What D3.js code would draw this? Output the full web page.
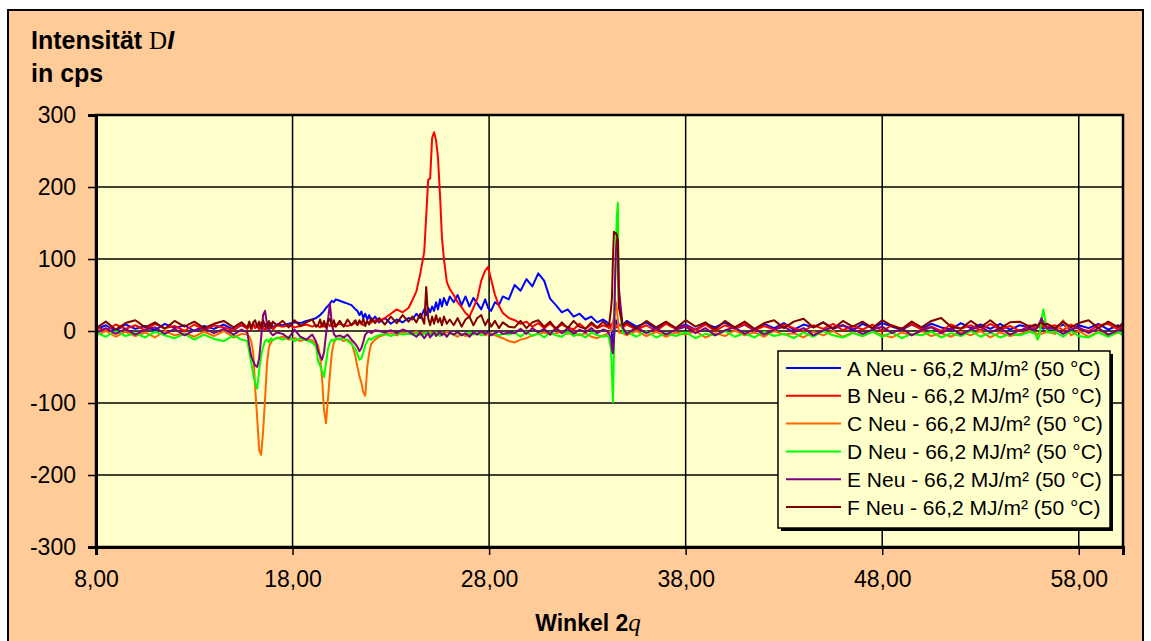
<!DOCTYPE html>
<html>
<head>
<meta charset="utf-8">
<script src="https://d3js.org/d3.v7.min.js"></script>
<style>
  body { margin:0; background:#fff; }
  text { font-family: Arial, "Liberation Sans", sans-serif; fill:#000; }
  .tick text { font-size:23px; }
  .grid line { stroke:#000; stroke-width:1.5; }
</style>
</head>
<body>
<script>

// shared angle grid (2 theta), finer where the peaks are
var winkel = [
  8.0, 8.5, 9.0, 9.5, 10.0, 10.5, 11.0, 11.5, 12.0, 12.5, 13.0, 13.5, 14.0, 14.5, 15.0, 15.4,
  15.7, 15.8, 15.9, 16.0, 16.1, 16.2, 16.3, 16.4, 16.5, 16.6, 16.7, 16.8, 16.9, 17.0, 17.2,
  17.5, 17.8, 18.1, 18.4, 18.7, 19.0, 19.2,
  19.3, 19.4, 19.5, 19.6, 19.7, 19.8, 19.9, 20.0, 20.1, 20.2,
  20.4, 20.6, 20.8, 21.0, 21.2,
  21.3, 21.4, 21.5, 21.6, 21.7, 21.8, 21.9, 22.0, 22.2,
  22.4, 22.7, 23.0, 23.3, 23.6, 23.9,
  24.1, 24.3, 24.5, 24.7, 24.8, 24.9, 25.0, 25.1, 25.2, 25.3, 25.4, 25.5, 25.6, 25.7, 25.85, 26.0,
  26.2, 26.4, 26.6, 26.8, 27.0, 27.2, 27.4, 27.6, 27.8, 27.95, 28.1, 28.3, 28.5, 28.7, 29.0,
  29.3, 29.6, 29.9, 30.2, 30.5, 30.8, 31.1, 31.4, 31.7, 32.0, 32.3, 32.6, 32.9, 33.2, 33.5, 33.8,
  34.0, 34.1, 34.2, 34.25, 34.3, 34.35, 34.4, 34.45, 34.5, 34.55, 34.6, 34.8,
  35.0, 35.5, 36.0, 36.5, 37.0, 37.5, 38.0, 38.5, 39.0, 39.5, 40.0, 40.5, 41.0, 41.5,
  42.0, 42.5, 43.0, 43.5, 44.0, 44.5, 45.0, 45.5, 46.0, 46.5, 47.0, 47.5, 48.0, 48.5,
  49.0, 49.5, 50.0, 50.5, 51.0, 51.5, 52.0, 52.5, 53.0, 53.5, 54.0, 54.5, 55.0, 55.5,
  55.8, 55.9, 56.0, 56.1, 56.2, 56.4,
  56.8, 57.2, 57.6, 58.0, 58.5, 59.0, 59.5, 60.0, 60.25
];

var serieA = [
  2,8,0,9,3,7,1,10,4,8,0,7,3,9,2,8,
  4,9,3,10,5,8,2,9,4,10,3,8,11,5,9,
  8,10,12,11,14,16,18,
  20,22,25,28,32,35,38,42,40,44,
  42,40,38,36,30,
  28,22,27,18,24,16,22,14,20,
  12,18,10,16,12,18,
  16,24,18,30,22,32,26,34,28,40,30,44,34,46,36,48,
  40,50,36,48,34,46,38,30,44,32,28,40,36,48,44,
  64,56,72,62,80,70,45,36,26,30,20,24,16,20,12,16,
  12,10,8,-5,-18,-10,6,15,10,8,9,8,
  14,6,12,3,11,4,9,2,10,5,12,3,9,1,10,4,11,2,9,5,12,3,8,1,10,4,11,6,2,9,3,10,5,2,11,4,9,3,10,2,8,5,
  8,6,10,5,3,6,
  3,9,1,8,4,10,2,8,4
];
var serieB = [
  6,0,9,3,8,1,10,4,7,0,9,2,8,5,1,9,
  3,9,1,10,4,8,2,11,5,1,9,3,10,2,8,
  6,8,5,7,9,6,8,
  7,5,9,6,8,10,7,9,6,8,
  10,8,7,9,11,
  9,12,10,8,11,13,10,12,15,
  14,18,24,30,26,32,
  43,55,80,110,160,210,212,268,276,265,240,190,130,100,68,58,
  50,40,33,25,20,32,45,70,84,89,72,50,35,25,18,
  15,10,13,6,11,4,10,3,9,5,2,10,3,9,4,8,
  6,4,8,10,12,15,8,6,5,7,9,5,
  9,2,8,0,10,3,7,1,9,0,8,3,10,1,7,2,9,4,0,8,3,10,1,7,2,9,0,8,3,10,2,6,0,9,3,8,1,10,2,7,0,8,
  4,6,5,7,5,6,
  8,1,9,3,0,8,10,2,6
];
var serieC = [
  -6,0,-8,-1,-7,-2,-9,0,-6,-3,-8,-1,-7,0,-9,-4,
  -5,-8,-14,-30,-80,-120,-165,-172,-140,-95,-45,-22,-16,-12,-10,
  -8,-12,-10,-14,-11,-13,-18,
  -20,-35,-65,-110,-128,-95,-60,-30,-16,-12,
  -10,-14,-12,-16,-35,
  -50,-62,-72,-85,-90,-50,-30,-18,-12,
  -8,-5,-3,-6,-2,-4,
  -3,-1,-4,-2,-5,-3,-1,-4,-2,-5,-3,-6,-2,-4,-1,-3,
  -5,-8,-4,-7,-5,-3,-5,-2,-6,-4,-3,-6,-8,-10,-14,
  -16,-12,-10,-6,-4,-2,-5,-3,-1,-4,-2,-6,-3,-8,-10,-6,
  -4,-2,0,5,10,20,35,40,30,15,-2,-3,
  -6,0,-7,-1,-8,-2,-5,0,-9,-3,-7,1,-6,-2,-8,0,-5,-3,-9,-1,-6,0,-8,-2,-7,-1,-5,-9,-2,-6,0,-7,-3,-8,-1,-6,0,-9,-2,-7,-4,0,
  -3,-5,-2,-4,-3,-1,
  -4,15,-6,0,-8,-1,-7,-2,-5
];
var serieD = [
  -2,-8,0,-7,-3,-9,-1,-6,-10,-4,-12,-5,-11,-14,-6,-12,
  -14,-30,-45,-60,-72,-80,-55,-35,-22,-14,-12,-16,-10,-13,-9,
  -12,-8,-14,-10,-13,-16,-22,
  -42,-48,-55,-64,-45,-25,-16,-12,-14,-10,
  -12,-9,-14,-18,-25,
  -32,-40,-38,-30,-20,-14,-10,-12,-8,
  -6,-4,-7,-3,-5,-4,
  -5,-3,-6,-4,-2,-5,-3,-6,-4,-2,-5,-7,-3,-4,-6,-3,
  -5,-3,-6,-4,-2,-5,-3,-6,-4,-2,-5,-3,-6,-4,-5,
  -2,-8,-1,-7,-3,-9,-2,-6,-8,-1,-7,-4,-9,-2,-6,-8,
  -6,-10,-25,-60,-99,-30,60,120,160,178,40,-3,
  -1,-8,0,-9,-3,-7,-2,-10,-4,-6,0,-8,-3,-9,-1,-7,-4,-10,-2,-8,0,-6,-9,-3,-7,-1,-8,-2,-10,-4,-6,-1,-9,-3,-7,0,-8,-2,-9,-4,-6,-1,
  -4,-12,-6,15,30,-2,
  -1,-8,0,-7,-9,-2,-8,-1,-6
];
var serieE = [
  -3,4,-4,3,-5,2,5,-4,3,-6,1,4,-3,3,-5,2,
  -2,-20,-35,-42,-48,-50,-38,-10,22,28,10,2,-3,-6,-2,
  -4,-10,2,-8,-12,-5,-15,
  -28,-34,-40,-30,-5,15,38,10,-4,-8,
  -6,-9,-5,-12,-18,
  -22,-28,-24,-15,-5,-2,0,-3,1,
  0,-2,1,-3,2,-1,
  -4,-8,-2,-10,-6,-3,-9,-5,-2,-7,-4,-1,-6,-3,-8,-2,
  -5,-1,-6,-3,-8,-2,-5,0,-4,-1,-6,-3,0,-4,-2,
  -3,3,-4,4,-2,3,-5,5,-3,4,-4,2,-2,4,-3,2,
  0,-4,-10,-25,-31,-15,60,110,125,128,60,5,
  -4,5,-3,4,-5,2,6,-3,4,-6,1,5,-4,3,-5,2,6,-2,4,-6,1,5,8,3,-4,2,6,-3,4,-6,1,5,-3,4,-5,2,6,-2,4,-5,1,3,
  2,5,10,18,12,3,
  3,-4,2,5,-3,4,-5,1,3
];
var serieF = [
  4,13,2,11,15,5,12,3,14,6,13,4,10,14,5,12,
  5,13,4,12,15,6,13,4,15,7,5,14,4,13,8,
  14,5,15,7,12,16,6,
  8,16,6,14,5,13,17,7,15,6,
  14,6,16,8,15,
  8,15,10,17,7,14,9,18,11,
  18,9,20,11,22,13,
  20,12,24,10,61,18,8,20,10,22,12,18,8,20,10,16,
  8,18,6,16,20,8,18,22,8,16,6,14,4,12,6,
  5,14,4,12,15,6,13,3,12,4,14,6,3,12,5,13,
  8,8,30,47,100,138,135,136,134,120,33,8,
  12,3,14,5,13,4,15,6,12,2,14,5,13,3,11,15,4,13,17,5,12,3,14,6,13,4,15,7,3,13,5,14,18,6,3,14,5,15,4,12,13,6,
  9,7,11,12,8,10,
  4,13,5,11,15,4,13,5,11
];

var serienNamen = [
  "A Neu - 66,2 MJ/m² (50 °C)",
  "B Neu - 66,2 MJ/m² (50 °C)",
  "C Neu - 66,2 MJ/m² (50 °C)",
  "D Neu - 66,2 MJ/m² (50 °C)",
  "E Neu - 66,2 MJ/m² (50 °C)",
  "F Neu - 66,2 MJ/m² (50 °C)"
];
var farben = ["#0000ff", "#ff0000", "#ff6600", "#00ff00", "#800080", "#800000"];
var xTicks = [8, 18, 28, 38, 48, 58];
var yTicks = [-300, -200, -100, 0, 100, 200, 300];

var alleSerien = [serieA, serieB, serieC, serieD, serieE, serieF];

var W = 1151, H = 641;
var plot = {left: 96, right: 1123, top: 115, bottom: 547};

var svg = d3.select("body").append("svg")
  .attr("width", W)
  .attr("height", H);

// chart area
svg.append("rect")
  .attr("x", 8).attr("y", 10)
  .attr("width", 1135).attr("height", 640)
  .attr("fill", "#ffcc99")
  .attr("stroke", "#000")
  .attr("stroke-width", 2);

var x = d3.scaleLinear().domain([8, 60.25]).range([plot.left, plot.right]);
var y = d3.scaleLinear().domain([-300, 300]).range([plot.bottom, plot.top]);

svg.append("rect")
  .attr("x", plot.left).attr("y", plot.top)
  .attr("width", plot.right - plot.left)
  .attr("height", plot.bottom - plot.top)
  .attr("fill", "#ffffcc");

// gridlines
var grid = svg.append("g").attr("class", "grid");
grid.selectAll(".gx")
  .data(xTicks.filter(d => d > 8))
  .enter().append("line")
  .attr("x1", d => x(d)).attr("x2", d => x(d))
  .attr("y1", plot.top).attr("y2", plot.bottom);
grid.selectAll(".gy")
  .data(yTicks.filter(d => d > -300 && d < 300))
  .enter().append("line")
  .attr("x1", plot.left).attr("x2", plot.right)
  .attr("y1", d => y(d)).attr("y2", d => y(d));

svg.append("clipPath").attr("id", "clip")
  .append("rect")
  .attr("x", plot.left).attr("y", plot.top)
  .attr("width", plot.right - plot.left)
  .attr("height", plot.bottom - plot.top);

var line = d3.line()
  .x(d => x(d[0]))
  .y(d => y(d[1]));

svg.append("g")
  .attr("clip-path", "url(#clip)")
  .selectAll("path")
  .data(alleSerien)
  .enter().append("path")
  .attr("fill", "none")
  .attr("stroke", (d, i) => farben[i])
  .attr("stroke-width", 2)
  .attr("stroke-linejoin", "round")
  .attr("d", d => line(winkel.map((w, i) => [w, d[i]]).filter(p => p[1] !== undefined)));

// plot frame
svg.append("rect")
  .attr("x", plot.left).attr("y", plot.top)
  .attr("width", plot.right - plot.left)
  .attr("height", plot.bottom - plot.top)
  .attr("fill", "none")
  .attr("stroke", "#000")
  .attr("stroke-width", 2.5);

// axes
var komma = d3.format(".2f");
var xAxis = d3.axisBottom(x).tickValues(xTicks).tickSize(8).tickPadding(16)
  .tickFormat(d => komma(d).replace(".", ","));
var yAxis = d3.axisLeft(y).tickValues(yTicks).tickSize(8).tickPadding(12)
  .tickFormat(d => String(d));

var gx = svg.append("g")
  .attr("transform", "translate(0," + plot.bottom + ")")
  .call(xAxis);
var gy = svg.append("g")
  .attr("transform", "translate(" + plot.left + ",0)")
  .call(yAxis);
[gx, gy].forEach(g => {
  g.select(".domain").attr("stroke", "#000").attr("stroke-width", 3);
  g.selectAll(".tick line").attr("stroke", "#000").attr("stroke-width", 1.5);
  g.selectAll(".tick text").attr("fill", "#000").style("font-family", "Arial, 'Liberation Sans', sans-serif");
});

// titles
var t1 = svg.append("text").attr("x", 31).attr("y", 49)
  .style("font-size", "25px").style("font-weight", "bold");
t1.append("tspan").text("Intensität ");
t1.append("tspan").text("D").style("font-family", "'Liberation Serif', 'DejaVu Serif', serif").style("font-weight", "normal");
t1.append("tspan").text("I").style("font-style", "italic");

svg.append("text").attr("x", 31).attr("y", 82)
  .style("font-size", "25px").style("font-weight", "bold")
  .text("in cps");

var t2 = svg.append("text").attr("x", 588).attr("y", 631)
  .attr("text-anchor", "middle")
  .style("font-size", "23px").style("font-weight", "bold");
t2.append("tspan").text("Winkel 2");
t2.append("tspan").text("q")
  .style("font-family", "'Liberation Serif', 'DejaVu Serif', serif")
  .style("font-style", "italic").style("font-weight", "normal")
  .style("font-size", "25px");

// legend
var leg = {x: 778, y: 351, w: 332, h: 177};
svg.append("rect")
  .attr("x", leg.x + 3).attr("y", leg.y + 3)
  .attr("width", leg.w).attr("height", leg.h)
  .attr("fill", "#000");
svg.append("rect")
  .attr("x", leg.x).attr("y", leg.y)
  .attr("width", leg.w).attr("height", leg.h)
  .attr("fill", "#ffffcc")
  .attr("stroke", "#000")
  .attr("stroke-width", 1.5);

var eintrag = svg.selectAll(".eintrag")
  .data(serienNamen)
  .enter().append("g")
  .attr("transform", (d, i) => "translate(" + leg.x + "," + (leg.y + 17 + i * 27.8) + ")");
eintrag.append("line")
  .attr("x1", 8).attr("x2", 63)
  .attr("stroke", (d, i) => farben[i])
  .attr("stroke-width", 2);
eintrag.append("text")
  .attr("x", 69).attr("y", 7.5)
  .style("font-size", "21px")
  .text(d => d);

</script>
</body>
</html>
